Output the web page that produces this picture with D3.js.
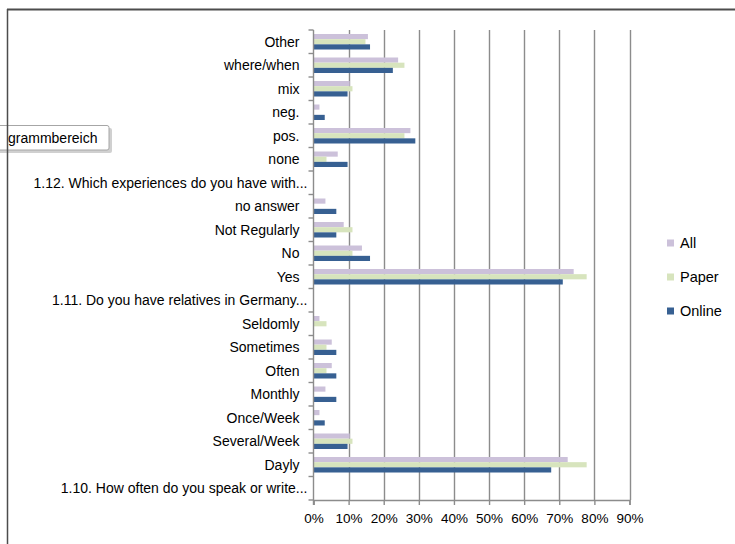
<!DOCTYPE html>
<html>
<head>
<meta charset="utf-8">
<script src="https://cdn.jsdelivr.net/npm/d3@7/dist/d3.min.js"></script>
<style>
  html, body { margin: 0; padding: 0; background: #ffffff; }
  svg { display: block; }
  text { font-family: "Liberation Sans", Arial, sans-serif; fill: #000; }
</style>
</head>
<body>
<svg id="chart" width="735" height="544"></svg>
<script>
// Survey answers, top to bottom as shown on the axis
const categories = [
  "Other", "where/when", "mix", "neg.", "pos.", "none",
  "1.12. Which experiences do you have with...",
  "no answer", "Not Regularly", "No", "Yes",
  "1.11. Do you have relatives in Germany...",
  "Seldomly", "Sometimes", "Often", "Monthly", "Once/Week", "Several/Week", "Dayly",
  "1.10. How often do you speak or write..."
];

// Share of respondents in percent
const allValues    = [15.5, 24.1, 10.3, 1.7, 27.6, 6.9, 0, 3.4, 8.6, 13.8, 74.1, 0, 1.7, 5.2, 5.2, 3.4, 1.7, 10.3, 72.4, 0];
const paperValues  = [14.8, 25.9, 11.1, 0, 25.9, 3.7, 0, 0, 11.1, 11.1, 77.8, 0, 3.7, 3.7, 3.7, 0, 0, 11.1, 77.8, 0];
const onlineValues = [16.1, 22.6, 9.7, 3.2, 29.0, 9.7, 0, 6.5, 6.5, 16.1, 71.0, 0, 0, 6.5, 6.5, 6.5, 3.2, 9.7, 67.7, 0];

const seriesNames = ["All", "Paper", "Online"];
const seriesColors = ["#ccc1da", "#d7e4bd", "#376092"];
const xTicks = [0, 10, 20, 30, 40, 50, 60, 70, 80, 90];

const series = [allValues, paperValues, onlineValues];

const svg = d3.select("#chart");

const x = d3.scaleLinear().domain([0, 90]).range([313.5, 629.5]);
const y = d3.scaleBand().domain(categories).range([30, 500]).paddingInner(0).paddingOuter(0);
const groupH = y.bandwidth() * 0.66;
const ySub = d3.scaleBand().domain(seriesNames).range([0, groupH]).padding(0);

// Chart frame
svg.append("line").attr("x1", 7).attr("x2", 735).attr("y1", 9.5).attr("y2", 9.5)
  .attr("stroke", "#4d4d4d").attr("stroke-width", 2);

// Vertical gridlines
svg.append("g").selectAll("line").data(xTicks.slice(1)).join("line")
  .attr("x1", d => Math.round(x(d)) + 0.5).attr("x2", d => Math.round(x(d)) + 0.5)
  .attr("y1", 30).attr("y2", 500)
  .attr("stroke", "#8c8c8c").attr("stroke-width", 1.4);

// Bars
const rows = categories.map((c, i) => ({ c, vals: series.map(s => s[i]) }));
const barG = svg.append("g");
rows.forEach(r => {
  const gy = y(r.c) + (y.bandwidth() - groupH) / 2;
  seriesNames.forEach((name, k) => {
    const v = r.vals[k];
    if (v <= 0) return;
    barG.append("rect")
      .attr("x", x(0))
      .attr("y", gy + ySub(name))
      .attr("width", x(v) - x(0))
      .attr("height", ySub.bandwidth())
      .attr("fill", seriesColors[k]);
  });
});

// Bottom axis
const xAxis = d3.axisBottom(x).tickValues(xTicks).tickFormat(d => d + "%").tickSize(5).tickPadding(8);
const gx = svg.append("g").attr("transform", "translate(0,500)").call(xAxis);
gx.select(".domain").attr("stroke", "#8c8c8c").attr("stroke-width", 1.4);
gx.selectAll(".tick line").attr("stroke", "#8c8c8c").attr("stroke-width", 1.4);
gx.selectAll(".tick text").attr("font-size", 13.5).attr("fill", "#000")
  .style("font-family", "'Liberation Sans', Arial, sans-serif");

// Left axis: ticks sit on band boundaries, labels at band centres
const gy = svg.append("g").attr("transform", "translate(313.5,0)");
gy.append("line").attr("x1", 0).attr("x2", 0).attr("y1", 30).attr("y2", 505)
  .attr("stroke", "#8c8c8c").attr("stroke-width", 1.4);
const bounds = categories.map(c => y(c)).concat([y.range()[1]]);
gy.selectAll("line.tk").data(bounds).join("line").attr("class", "tk")
  .attr("x1", -5).attr("x2", 0).attr("y1", d => d).attr("y2", d => d)
  .attr("stroke", "#8c8c8c").attr("stroke-width", 1.4);
gy.selectAll("text").data(categories).join("text")
  .attr("x", d => d.endsWith("...") ? -6 : -14)
  .attr("y", d => y(d) + y.bandwidth() / 2)
  .attr("dy", "0.35em").attr("text-anchor", "end")
  .attr("font-size", 14).text(d => d);

// Legend
const legend = svg.append("g");
seriesNames.forEach((name, k) => {
  const ly = 243 + k * 34;
  legend.append("rect").attr("x", 667).attr("y", ly - 3.5).attr("width", 7).attr("height", 7)
    .attr("fill", seriesColors[k]);
  legend.append("text").attr("x", 680).attr("y", ly).attr("dy", "0.35em")
    .attr("font-size", 14.5).text(name);
});

// Hover tip over the chart area
const tip = svg.append("g");
tip.append("rect").attr("x", -6).attr("y", 128).attr("width", 118).attr("height", 25).attr("rx", 2)
  .attr("fill", "#b0b0b0").attr("opacity", 0.6);
tip.append("rect").attr("x", -8).attr("y", 125.5).attr("width", 117).attr("height", 24.5).attr("rx", 2)
  .attr("fill", "#ffffff").attr("stroke", "#a6a6a6").attr("stroke-width", 1);
tip.append("text").attr("x", 8).attr("y", 138).attr("dy", "0.35em")
  .attr("font-size", 14).attr("fill", "#3c3c3c").text("grammbereich");

// Left edge of the frame
svg.append("line").attr("x1", 7.5).attr("x2", 7.5).attr("y1", 9).attr("y2", 544)
  .attr("stroke", "#4d4d4d").attr("stroke-width", 1.5);
</script>
</body>
</html>
